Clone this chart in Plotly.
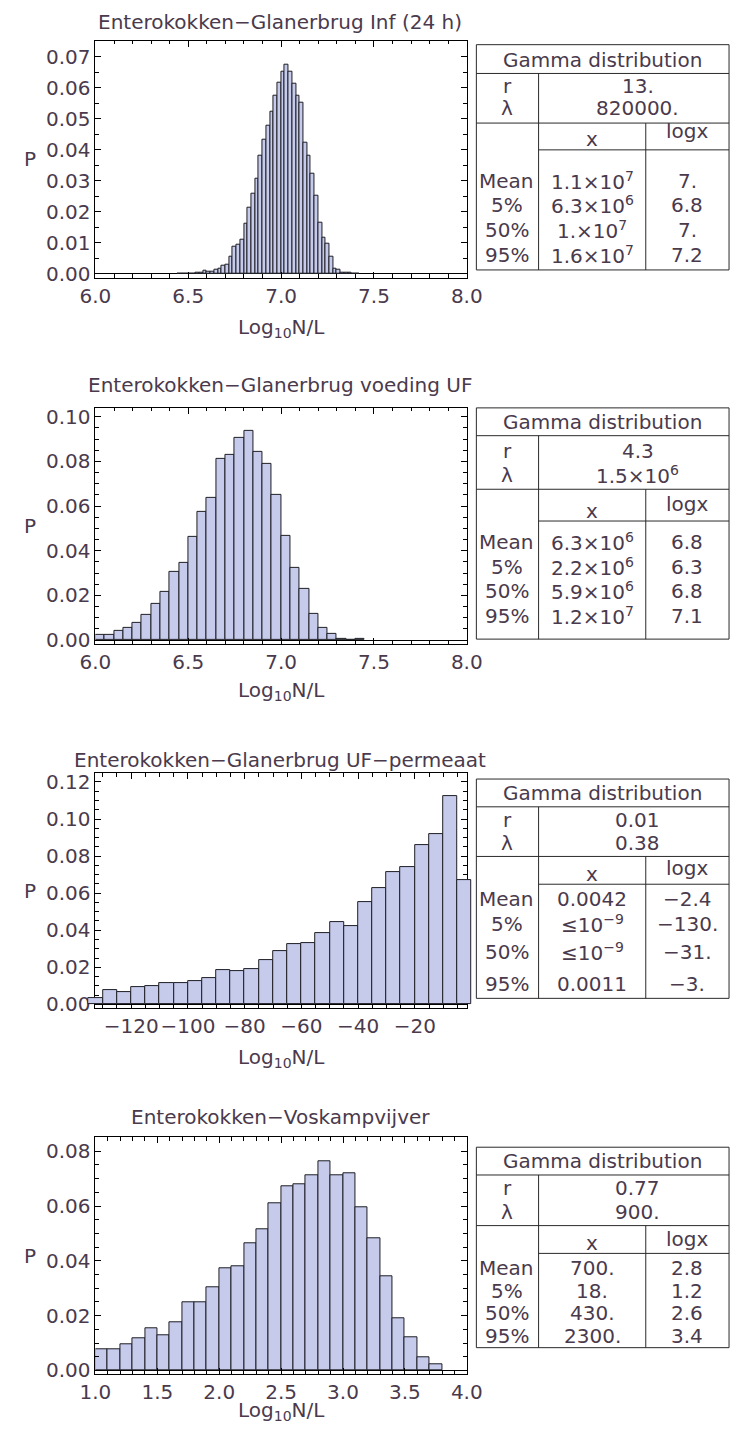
import plotly.graph_objects as go

W, H = 746, 1443
FONT = "DejaVu Sans"
FS = 20
TXT = "#4a3a4c"
BAR_FILL = "#c6cbec"
BAR_LINE = "#1e1e24"

# ---------------- data ----------------
titles = [
    "Enterokokken\u2212Glanerbrug Inf (24 h)",
    "Enterokokken\u2212Glanerbrug voeding UF",
    "Enterokokken\u2212Glanerbrug UF\u2212permeaat",
    "Enterokokken\u2212Voskampvijver",
]

# Inf (24 h): bin left edges (width 0.02) and probabilities
inf_edges = [6.44, 6.46, 6.48, 6.50, 6.52, 6.54, 6.56, 6.58, 6.60, 6.62, 6.64, 6.66,
             6.68, 6.70, 6.72, 6.74, 6.76, 6.78, 6.80, 6.82, 6.84, 6.86, 6.88, 6.90,
             6.92, 6.94, 6.96, 6.98, 7.00, 7.02, 7.04, 7.06, 7.08, 7.10, 7.12, 7.14,
             7.16, 7.18, 7.20, 7.22, 7.24, 7.26, 7.28, 7.30, 7.32, 7.34, 7.36, 7.38, 7.40]
inf_p = [0.0002, 0.0, 0.0002, 0.0, 0.0002, 0.0003, 0.0005, 0.0009, 0.0006, 0.0006, 0.0014, 0.0018,
         0.0027, 0.0031, 0.0054, 0.0086, 0.0095, 0.0110, 0.0163, 0.0213, 0.0257, 0.0305, 0.0380, 0.0432,
         0.0477, 0.0523, 0.0573, 0.0616, 0.0650, 0.0673, 0.0650, 0.0611, 0.0575, 0.0552, 0.0423, 0.0380,
         0.0322, 0.0252, 0.0166, 0.0118, 0.0096, 0.0054, 0.0018, 0.0014, 0.0005, 0.0005, 0.0003, 0.0002, 0.0002]
inf_width = 0.02

# voeding UF: bin left edges (width 0.05)
uf_edges = [6.00, 6.05, 6.10, 6.15, 6.20, 6.25, 6.30, 6.35, 6.40, 6.45, 6.50, 6.55,
            6.60, 6.65, 6.70, 6.75, 6.80, 6.85, 6.90, 6.95, 7.00, 7.05, 7.10, 7.15,
            7.20, 7.25, 7.30, 7.35, 7.40]
uf_p = [0.0022, 0.0022, 0.0042, 0.0055, 0.0077, 0.0111, 0.0162, 0.0218, 0.0305, 0.0346, 0.0461, 0.0575,
        0.0639, 0.0810, 0.0829, 0.0906, 0.0936, 0.0844, 0.0788, 0.0652, 0.0468, 0.0325, 0.0227, 0.0119,
        0.0055, 0.0028, 0.0006, 0.0, 0.0005]
uf_width = 0.05

# UF-permeaat: bin left edges (width 5)
perm_edges = [-135, -130, -125, -120, -115, -110, -105, -100, -95, -90, -85, -80, -75,
              -70, -65, -60, -55, -50, -45, -40, -35, -30, -25, -20, -15, -10, -5]
perm_p = [0.0032, 0.0077, 0.0064, 0.0091, 0.0100, 0.0116, 0.0116, 0.0128, 0.0144, 0.0187, 0.0180,
          0.0193, 0.0237, 0.0289, 0.0323, 0.0332, 0.0383, 0.0442, 0.0424, 0.0553, 0.0629, 0.0713,
          0.0740, 0.0858, 0.0920, 0.1123, 0.0670]
perm_width = 5

# Voskampvijver: bin left edges (width 0.1)
vos_edges = [1.0, 1.1, 1.2, 1.3, 1.4, 1.5, 1.6, 1.7, 1.8, 1.9, 2.0, 2.1, 2.2, 2.3,
             2.4, 2.5, 2.6, 2.7, 2.8, 2.9, 3.0, 3.1, 3.2, 3.3, 3.4, 3.5, 3.6, 3.7]
vos_p = [0.0079, 0.0079, 0.0094, 0.0117, 0.0153, 0.0128, 0.0176, 0.0249, 0.0249, 0.0304, 0.0372, 0.0382,
         0.0464, 0.0516, 0.0609, 0.0672, 0.0678, 0.0712, 0.0765, 0.0712, 0.0718, 0.0597, 0.0482, 0.0343,
         0.0191, 0.0122, 0.0048, 0.0024]
vos_width = 0.1

# Gamma distribution summaries
gamma_r = ["13.", "4.3", "0.01", "0.77"]
gamma_lambda = ["820000.", "1.5\u00d710<sup>6</sup>", "0.38", "900."]
stat_labels = ["Mean", "5%", "50%", "95%"]
stat_x = [
    ["1.1\u00d710<sup>7</sup>", "6.3\u00d710<sup>6</sup>", "1.\u00d710<sup>7</sup>", "1.6\u00d710<sup>7</sup>"],
    ["6.3\u00d710<sup>6</sup>", "2.2\u00d710<sup>6</sup>", "5.9\u00d710<sup>6</sup>", "1.2\u00d710<sup>7</sup>"],
    ["0.0042", "\u226410<sup>\u22129</sup>", "\u226410<sup>\u22129</sup>", "0.0011"],
    ["700.", "18.", "430.", "2300."],
]
stat_logx = [
    ["7.", "6.8", "7.", "7.2"],
    ["6.8", "6.3", "6.8", "7.1"],
    ["\u22122.4", "\u2212130.", "\u221231.", "\u22123."],
    ["2.8", "1.2", "2.6", "3.4"],
]

hists = [
    (inf_edges, inf_p, inf_width),
    (uf_edges, uf_p, uf_width),
    (perm_edges, perm_p, perm_width),
    (vos_edges, vos_p, vos_width),
]

# ---------------- layout geometry (pixels) ----------------
FL, FR = 83, 471                      # plot frame left/right
frames = [(38, 277), (408, 646), (776, 1013), (1143, 1382)]
title_y = [19, 385, 763, 1123]
xtitle_gap = [50, 47, 50, 37]
xranges = [[6, 8], [6, 8], [-132.6, -1.7], [1, 4]]
yranges = [[-0.0013, 0.0751], [-0.0018, 0.104], [-0.0021, 0.1248], [-0.00145, 0.0851]]
xticks = [(0.5, 0.1, 6), (0.5, 0.1, 6), (20, 5, 0), (0.5, 0.1, 1)]
yticks = [(0.01, 0.005), (0.02, 0.005), (0.02, 0.005), (0.02, 0.005)]
xfmt = [".1f", ".1f", "d", ".1f"]

TL, C1, C2, TR = 481, 546, 658, 745   # table columns
tables = [
    dict(top=42, h1=71, h2=121, h3=148, bottom=269, g=57, r=84, lam=106, x=137, logx=129,
         rows=[179, 204, 229, 254]),
    dict(top=408, h1=436, h2=490, h3=522, bottom=641, g=422, r=451, lam=476, x=512, logx=505,
         rows=[543, 568, 593, 618]),
    dict(top=782, h1=810, h2=860, h3=888, bottom=1003, g=796, r=823, lam=846, x=878, logx=872,
         rows=[903, 928, 956, 989]),
    dict(top=1153, h1=1181, h2=1232, h3=1260, bottom=1355, g=1167, r=1194, lam=1218, x=1250, logx=1245,
         rows=[1275, 1298, 1320, 1343]),
]


def px(x):
    return x / W


def py(y):
    return 1 - y / H


fig = go.Figure()
layout = dict(
    width=W, height=H, margin=dict(l=0, r=0, t=0, b=0),
    paper_bgcolor="white", plot_bgcolor="rgba(0,0,0,0)", showlegend=False,
    font=dict(family=FONT, size=FS, color=TXT),
    bargap=0,
)
annotations = []
shapes = []
lc = "#2a2a2a"


def hline(y, x0, x1):
    shapes.append(dict(type="line", xref="paper", yref="paper", x0=px(x0), x1=px(x1),
                       y0=py(y), y1=py(y), line=dict(color=lc, width=1)))


def vline(x, y0, y1):
    shapes.append(dict(type="line", xref="paper", yref="paper", x0=px(x), x1=px(x),
                       y0=py(y0), y1=py(y1), line=dict(color=lc, width=1)))


def label(text, x, y):
    annotations.append(dict(text=text, x=px(x), y=py(y), xref="paper", yref="paper",
                            showarrow=False, xanchor="center", yanchor="middle",
                            font=dict(family=FONT, size=FS, color=TXT)))


for i in range(4):
    n = i + 1
    top, bot = frames[i]
    xa = dict(
        domain=[px(FL), px(FR)], range=xranges[i], anchor=f"y{n}",
        showline=True, linecolor="black", linewidth=1, mirror="ticks",
        ticks="inside", ticklen=6, tickcolor="black", tickwidth=1,
        dtick=xticks[i][0], tick0=xticks[i][2], tickformat=xfmt[i], tickangle=0,
        minor=dict(ticks="inside", ticklen=3.5, dtick=xticks[i][1], tickcolor="black", tickwidth=1,
                   showgrid=False),
        showgrid=False, zeroline=False, layer="above traces",
        tickfont=dict(family=FONT, size=FS, color=TXT),
    )
    ya = dict(
        domain=[py(bot), py(top)], range=yranges[i], anchor=f"x{n}",
        showline=True, linecolor="black", linewidth=1, mirror="ticks",
        ticks="inside", ticklen=6, tickcolor="black", tickwidth=1,
        dtick=yticks[i][0], tick0=0, tickformat=".2f",
        minor=dict(ticks="inside", ticklen=3.5, dtick=yticks[i][1], tickcolor="black", tickwidth=1,
                   showgrid=False),
        showgrid=False, zeroline=True, zerolinecolor="black", zerolinewidth=1,
        layer="above traces",
        tickfont=dict(family=FONT, size=FS, color=TXT),
    )
    layout["xaxis" if n == 1 else f"xaxis{n}"] = xa
    layout["yaxis" if n == 1 else f"yaxis{n}"] = ya

    edges, probs, width = hists[i]
    xref, yref = ("x" if n == 1 else f"x{n}"), ("y" if n == 1 else f"y{n}")
    if n == 3:
        # the framed axes still need a trace so that they get drawn
        fig.add_trace(go.Scatter(x=[edges[0]], y=[0], mode="markers", marker=dict(opacity=0),
                                 xaxis="x3", yaxis="y3", hoverinfo="skip"))
        # bars of this panel reach past the frame: draw them on a wider overlay axis
        lo, hi = xranges[i]
        scale = (FR - FL) / (hi - lo)
        dlo, dhi = edges[0] - 0.5, edges[-1] + width + 0.5
        left_px = FL + (dlo - lo) * scale
        right_px = FL + (dhi - lo) * scale
        layout["xaxis5"] = dict(domain=[px(left_px), px(right_px)], range=[dlo, dhi], anchor="y5",
                                visible=False)
        layout["yaxis5"] = dict(domain=[py(bot), py(top)], range=yranges[i], anchor="x5",
                                visible=False)
        xref, yref = "x5", "y5"
    fig.add_trace(go.Bar(
        x=edges, y=probs, width=width, offset=0,
        marker=dict(color=BAR_FILL, line=dict(color=BAR_LINE, width=1)),
        xaxis=xref, yaxis=yref, hoverinfo="skip",
    ))

    # panel title, axis labels
    label(titles[i], (FL + FR) / 2 - 1, title_y[i])
    label("P", 15, (top + bot) / 2)
    label("Log<sub>10</sub>N/L", (FL + FR) / 2, bot + xtitle_gap[i])

    # statistics table
    t = tables[i]
    hline(t["top"], TL, TR)
    hline(t["h1"], TL, TR)
    hline(t["h2"], TL, TR)
    hline(t["h3"], C1, TR)
    hline(t["bottom"], TL, TR)
    vline(TL, t["top"], t["bottom"])
    vline(TR, t["top"], t["bottom"])
    vline(C1, t["h1"], t["bottom"])
    vline(C2, t["h2"], t["bottom"])

    label("Gamma distribution", (TL + TR) / 2, t["g"])
    label("r", (TL + C1) / 2, t["r"])
    label("\u03bb", (TL + C1) / 2, t["lam"])
    label(gamma_r[i], (C1 + TR) / 2 + 4, t["r"])
    label(gamma_lambda[i], (C1 + TR) / 2 + 4, t["lam"])
    label("x", (C1 + C2) / 2, t["x"])
    label("logx", (C2 + TR) / 2, t["logx"])
    for k in range(4):
        label(stat_labels[k], (TL + C1) / 2 - 1, t["rows"][k])
        label(stat_x[i][k], (C1 + C2) / 2, t["rows"][k])
        label(stat_logx[i][k], (C2 + TR) / 2, t["rows"][k])

layout["annotations"] = annotations
layout["shapes"] = shapes
fig.update_layout(**layout)
fig.write_html("out.html")
